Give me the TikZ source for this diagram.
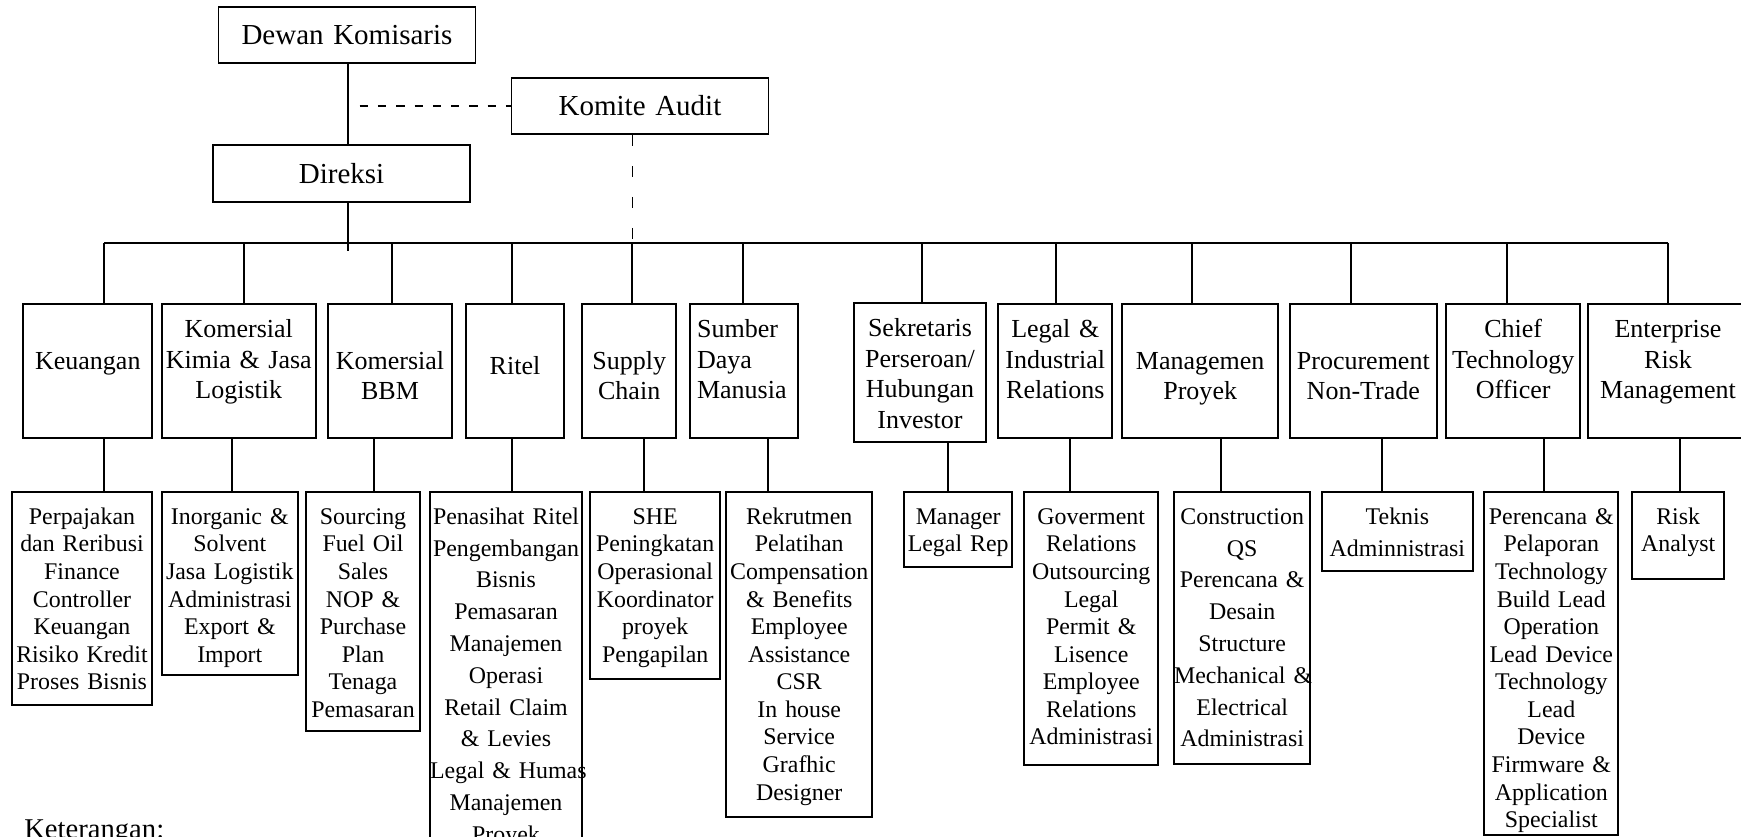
\documentclass[tikz,border=0pt]{standalone}
\usepackage{fontspec}
\setmainfont{Liberation Serif}
\usepackage{tikz}
\hyphenpenalty=10000
\exhyphenpenalty=10000

\begin{document}
\begin{tikzpicture}[
  x=0.02cm,
  y=-0.02cm,
  every node/.style={
    rectangle,
    draw=black,
    line width=1.1pt,
    inner sep=0pt,
    anchor=north,
    align=center
  },
  board/.style={
    text width=5.14cm,
    text height=0.76cm,
    text depth=0.37cm,
    font=\fontsize{16.5pt}{19pt}\selectfont
  },
  unit/.style={
    text height=0.68cm,
    text depth=2.0cm,
    font=\fontsize{14.8pt}{17.4pt}\selectfont
  },
  unitlow/.style={
    unit,
    text height=1.312cm,
    text depth=1.368cm
  },
  duty/.style={
    text height=0.646cm,
    font=\fontsize{13.6pt}{15.7pt}\selectfont
  },
  dutywide/.style={
    duty,
    font=\fontsize{13.6pt}{18.1pt}\selectfont
  },
  link/.style={draw=black, line width=1.1pt},
  audit/.style={draw=black, line width=0.7pt, dash pattern=on 4.7pt off 5.7pt}
]

\useasboundingbox (0,0) rectangle (1741,836);
\clip (0,0) rectangle (1741,836);

% Board and directors
\node[board] (dewan)   at (347,6)      {Dewan Komisaris};
\node[board] (komite)  at (640,76.7)   {Komite Audit};
\node[board] (direksi) at (341.6,144.3) {Direksi};

% Units, left to right
\node[unitlow, text width=2.58cm]  (keu)    at (87.8,302.7)  {Keuangan};
\node[unit, text width=3.086cm]    (kimia)  at (238.8,302.7) {Komersial\\Kimia \& Jasa\\Logistik};
\node[unitlow, text width=2.492cm] (bbm)    at (390,302.7)   {Komersial\\BBM};
\node[unit, text width=1.972cm, text height=1.426cm, text depth=1.254cm]
                                   (ritel)  at (515,302.7)   {Ritel};
\node[unitlow, text width=1.886cm] (supply) at (629.2,302.7) {Supply\\Chain};
\node[unit, align=left, inner xsep=0.14cm, text width=1.886cm]
                                   (sdm)    at (744.2,302.7) {Sumber\\Daya\\Manusia};
\node[unit, text width=2.64cm, text depth=2.1cm]
                                   (sekr)   at (920,301.7)   {Sekretaris\\Perseroan/\\Hubungan\\Investor};
\node[unit, text width=2.28cm]     (legal)  at (1055.3,302.7) {Legal \&\\Industrial\\Relations};
\node[unitlow, text width=3.126cm] (proyek) at (1200.2,302.7) {Managemen\\Proyek};
\node[unitlow, text width=2.934cm] (procure) at (1363.3,302.7) {Procurement\\Non-Trade};
\node[unit, text width=2.686cm]    (cto)    at (1513.2,302.7) {Chief\\Technology\\Officer};
\node[unit, text width=3.2cm]      (erm)    at (1668,302.7)  {Enterprise\\Risk\\Management};

% Duties under each unit
\node[duty, text width=2.812cm, text depth=3.62cm] (pajak) at (82,491)
  {Perpajakan\\dan Reribusi\\Finance\\Controller\\Keuangan\\Risiko~Kredit\\Proses~Bisnis};
\node[duty, text width=2.714cm, text depth=3.02cm] (inorg) at (229.8,491)
  {Inorganic \&\\Solvent\\Jasa Logistik\\Administrasi\\Export \&\\Import};
\node[duty, text width=2.28cm, text depth=4.14cm] (sourc) at (363,491)
  {Sourcing\\Fuel Oil\\Sales\\NOP \&\\Purchase\\Plan\\Tenaga\\Pemasaran};
\node[dutywide, text width=3.04cm, text depth=7.134cm] (penas) at (506,491)
  {Penasihat~Ritel\\Pengembangan\\Bisnis\\Pemasaran\\Manajemen\\Operasi\\Retail Claim\\\& Levies\\Legal~\&~Humas\\Manajemen\\Proyek};
\node[duty, text width=2.606cm, text depth=3.104cm] (she) at (655.2,491)
  {SHE\\Peningkatan\\Operasional\\Koordinator\\proyek\\Pengapilan};
\node[duty, text width=2.926cm, text depth=5.854cm] (rekrut) at (799.2,491)
  {Rekrutmen\\Pelatihan\\Compensation\\\& Benefits\\Employee\\Assistance\\CSR\\In house\\Service\\Grafhic\\Designer};
\node[duty, text width=2.166cm, text depth=0.854cm] (manlegal) at (958.2,491)
  {Manager\\Legal~Rep};
\node[duty, text width=2.686cm, text depth=4.814cm] (gov) at (1091.2,491)
  {Goverment\\Relations\\Outsourcing\\Legal\\Permit \&\\Lisence\\Employee\\Relations\\Administrasi};
\node[dutywide, text width=2.726cm, text depth=4.788cm] (constr) at (1242.2,491)
  {Construction\\QS\\Perencana \&\\Desain\\Structure\\Mechanical~\&\\Electrical\\Administrasi};
\node[dutywide, text width=3.014cm, text depth=0.926cm] (teknis) at (1397.4,491)
  {Teknis\\Adminnistrasi};
\node[duty, text width=2.68cm, text depth=6.214cm] (plan) at (1551.3,491)
  {Perencana \&\\Pelaporan\\Technology\\Build Lead\\Operation\\Lead Device\\Technology\\Lead\\Device\\Firmware \&\\Application\\Specialist};
\node[duty, text width=1.846cm, text depth=1.104cm] (risk) at (1678.2,491)
  {Risk\\Analyst};

\node[draw=none, anchor=base west, font=\fontsize{16.3pt}{19pt}\selectfont] (ket) at (23.3,838) {Keterangan:};

% Lines of command
\coordinate (bus)       at (104,242.7);
\coordinate (busend)    at (1668.3,242.7);
\coordinate (spine)     at (348,0);
\coordinate (tap)       at (359.7,0);
\coordinate (auditline) at (632.7,0);

\draw[link] (bus) -- (busend);
\draw[link] (spine |- dewan.south) -- (spine |- direksi.north);
\draw[link] (spine |- direksi.south) -- ++(0,48);
\draw[audit] (tap |- komite.west) -- (komite.west);
\draw[audit, dash pattern=on 6.4pt off 11.2pt] (auditline |- komite.south) -- (auditline |- bus);

\foreach \unitname/\dutyname/\xin/\xout in {keu/pajak/104/104, kimia/inorg/244.3/232.3,
    bbm/sourc/392/374, ritel/penas/512.3/512.3, supply/she/632.3/644, sdm/rekrut/742.7/768,
    sekr/manlegal/922.3/948, legal/gov/1056.3/1070.3, proyek/constr/1192.3/1220.7,
    procure/teknis/1350.7/1382.3, cto/plan/1506.7/1544.3, erm/risk/1668.3/1680.3}{
  \draw[link] (\xin,0 |- bus) -- (\xin,0 |- \unitname.north);
  \draw[link] (\xout,0 |- \unitname.south) -- (\xout,0 |- \dutyname.north);
}

\end{tikzpicture}
\end{document}
